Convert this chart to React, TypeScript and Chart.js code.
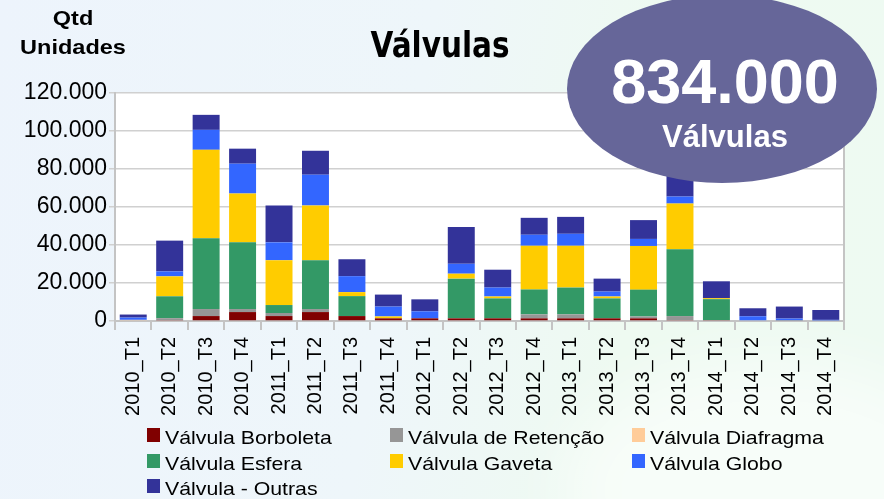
import React, { useEffect, useRef } from "react";
import { Chart, registerables } from "chart.js";

Chart.register(...registerables);

const categories = [
  "2010_T1", "2010_T2", "2010_T3", "2010_T4",
  "2011_T1", "2011_T2", "2011_T3", "2011_T4",
  "2012_T1", "2012_T2", "2012_T3", "2012_T4",
  "2013_T1", "2013_T2", "2013_T3", "2013_T4",
  "2014_T1", "2014_T2", "2014_T3", "2014_T4",
];

const borboleta = [400, 500, 2600, 4700, 2600, 4700, 2600, 1400, 1400, 1400, 1400, 1400, 1400, 1400, 1400, 500, 500, 400, 0, 0];
const retencao = [0, 1000, 3700, 1600, 1600, 1600, 0, 0, 0, 0, 0, 2100, 2100, 0, 1000, 2100, 0, 0, 0, 300];
const diafragma = [200, 0, 0, 0, 0, 0, 0, 0, 0, 0, 0, 0, 0, 0, 0, 0, 0, 0, 0, 0];
const esfera = [0, 11500, 37200, 35100, 4200, 25700, 10500, 0, 0, 20900, 10500, 13100, 14100, 10500, 14100, 35100, 11000, 0, 0, 0];
const gaveta = [0, 10500, 46600, 25700, 23600, 28800, 2100, 1000, 0, 2600, 1000, 23000, 22000, 1000, 23000, 24100, 500, 0, 300, 0];
const globo = [1200, 2600, 10500, 15700, 9400, 16200, 8400, 5200, 3700, 5200, 4700, 5800, 6300, 2600, 3700, 3700, 0, 2100, 1000, 300];
const outras = [1600, 16200, 7900, 7900, 19400, 12600, 8900, 6300, 6300, 19400, 9400, 8900, 8900, 6800, 9900, 12000, 8900, 4200, 6300, 5200];

const seriesNames = [
  "Válvula Borboleta",
  "Válvula de Retenção",
  "Válvula Diafragma",
  "Válvula Esfera",
  "Válvula Gaveta",
  "Válvula Globo",
  "Válvula - Outras",
];
const seriesColors = ["#800000", "#969696", "#FFCC99", "#339966", "#FFCC00", "#3366FF", "#333399"];
const seriesValues = [borboleta, retencao, diafragma, esfera, gaveta, globo, outras];

const yTickValues = [0, 20000, 40000, 60000, 80000, 100000, 120000];

const chartTitle = "Válvulas";
const axisTitleLines = ["Qtd", "Unidades"];
const totalLabel = "834.000";
const totalSub = "Válvulas";

const fmt = (v: number) => String(Math.round(v)).replace(/\B(?=(\d{3})+(?!\d))/g, ".");

const FONT = "'Liberation Sans', Arial, sans-serif";

export default function App() {
  const ref = useRef<HTMLCanvasElement | null>(null);

  useEffect(() => {
    if (!ref.current) return;
    const areaPlugin = {
      id: "areaPlugin",
      beforeDatasetsDraw(chart: any) {
        const { ctx, chartArea } = chart;
        ctx.save();
        ctx.strokeStyle = "#c4c4c4";
        ctx.lineWidth = 2;
        ctx.beginPath();
        ctx.moveTo(chartArea.right, chartArea.top);
        ctx.lineTo(chartArea.right, chartArea.bottom + 9);
        ctx.stroke();
        ctx.restore();
      },
      beforeDraw(chart: any) {
        const { ctx, chartArea } = chart;
        ctx.save();
        ctx.fillStyle = "#ffffff";
        ctx.fillRect(chartArea.left, chartArea.top, chartArea.right - chartArea.left, chartArea.bottom - chartArea.top);
        ctx.restore();
      },
    };

    const chart = new Chart(ref.current, {
      type: "bar",
      data: {
        labels: categories,
        datasets: seriesNames.map((name, i) => ({
          label: name,
          data: seriesValues[i],
          backgroundColor: seriesColors[i],
          borderWidth: 0,
          barPercentage: 0.74,
          categoryPercentage: 1.0,
        })),
      },
      options: {
        animation: false,
        responsive: false,
        maintainAspectRatio: false,
        layout: { padding: { left: 0, right: 40, top: 93, bottom: 74 } },
        plugins: {
          legend: { display: false },
          title: { display: false },
          tooltip: { enabled: false },
        },
        scales: {
          x: {
            stacked: true,
            offset: true,
            grid: {
              offset: true,
              drawOnChartArea: false,
              drawTicks: true,
              tickLength: 9,
              color: "#c4c4c4",
              lineWidth: 2,
            },
            border: { display: true, color: "#c4c4c4", width: 2 },
            ticks: {
              autoSkip: false,
              minRotation: 90,
              maxRotation: 90,
              padding: 7,
              color: "#000000",
              font: { family: FONT, size: 20 },
            },
            afterFit(scale: any) {
              scale.height = 104;
            },
          },
          y: {
            stacked: true,
            min: 0,
            max: 120000,
            afterBuildTicks(scale: any) {
              scale.ticks = yTickValues.map((v) => ({ value: v }));
            },
            grid: {
              color: "#d0d0d0",
              lineWidth: 1.5,
              tickLength: 6,
            },
            border: { display: true, color: "#c4c4c4", width: 2 },
            ticks: {
              padding: 2,
              color: "#000000",
              font: { family: FONT, size: 23 },
              callback: (v: any) => fmt(Number(v)),
            },
            afterFit(scale: any) {
              scale.width = 115;
            },
          },
        },
      },
      plugins: [areaPlugin],
    } as any);
    return () => chart.destroy();
  }, []);

  const legendCols = [147, 390, 632];
  const legendRows = [428, 454, 479];

  return (
    <div
      style={{
        position: "fixed",
        left: 0,
        top: 0,
        width: 884,
        height: 499,
        overflow: "hidden",
        background: "linear-gradient(100deg, #edf4fc 0%, #eef6fa 45%, #eefaf1 70%, #eefaf2 100%)",
        fontFamily: FONT,
      }}
    >
      <div
        style={{
          position: "absolute",
          left: 560,
          top: 360,
          width: 420,
          height: 260,
          borderRadius: "50%",
          background: "rgba(255,255,255,0.55)",
          filter: "blur(30px)",
        }}
      />
      <canvas ref={ref} width={884} height={499} style={{ position: "absolute", left: 0, top: 0, width: 884, height: 499 }} />
      {axisTitleLines.map((t, i) => (
        <div
          key={t}
          style={{
            position: "absolute",
            left: 0,
            width: 146,
            top: i === 0 ? 7 : 36,
            textAlign: "center",
            fontWeight: "bold",
            fontSize: 21,
            lineHeight: "21px",
            color: "#000",
            transform: "scaleX(1.12)",
            whiteSpace: "nowrap",
          }}
        >
          {t}
        </div>
      ))}
      <div
        style={{
          position: "absolute",
          left: 240,
          width: 400,
          top: 27,
          textAlign: "center",
          fontFamily: "'DejaVu Sans', sans-serif",
          fontWeight: "bold",
          fontSize: 36,
          lineHeight: "36px",
          color: "#000",
          transform: "scaleX(0.82)",
          whiteSpace: "nowrap",
        }}
      >
        {chartTitle}
      </div>
      <div
        style={{
          position: "absolute",
          left: 567,
          top: -5,
          width: 310,
          height: 188,
          borderRadius: "50%",
          background: "#666699",
        }}
      />
      <div
        style={{
          position: "absolute",
          left: 567,
          width: 316,
          top: 50,
          textAlign: "center",
          fontWeight: "bold",
          fontSize: 63,
          lineHeight: "63px",
          color: "#fff",
          whiteSpace: "nowrap",
        }}
      >
        {totalLabel}
      </div>
      <div
        style={{
          position: "absolute",
          left: 567,
          width: 316,
          top: 121,
          textAlign: "center",
          fontWeight: "bold",
          fontSize: 31,
          lineHeight: "31px",
          color: "#fff",
          whiteSpace: "nowrap",
        }}
      >
        {totalSub}
      </div>
      {seriesNames.map((name, i) => {
        const col = i % 3;
        const row = Math.floor(i / 3);
        return (
          <div
            key={name}
            style={{
              position: "absolute",
              left: legendCols[col],
              top: legendRows[row],
              height: 19,
              display: "flex",
              alignItems: "flex-start",
              whiteSpace: "nowrap",
            }}
          >
            <div style={{ width: 13, height: 14, background: seriesColors[i], marginTop: 0, marginRight: 5 }} />
            <div
              style={{
                fontSize: 19,
                lineHeight: "19px",
                color: "#000",
                transform: "scaleX(1.12)",
                transformOrigin: "left center",
              }}
            >
              {name}
            </div>
          </div>
        );
      })}
    </div>
  );
}
